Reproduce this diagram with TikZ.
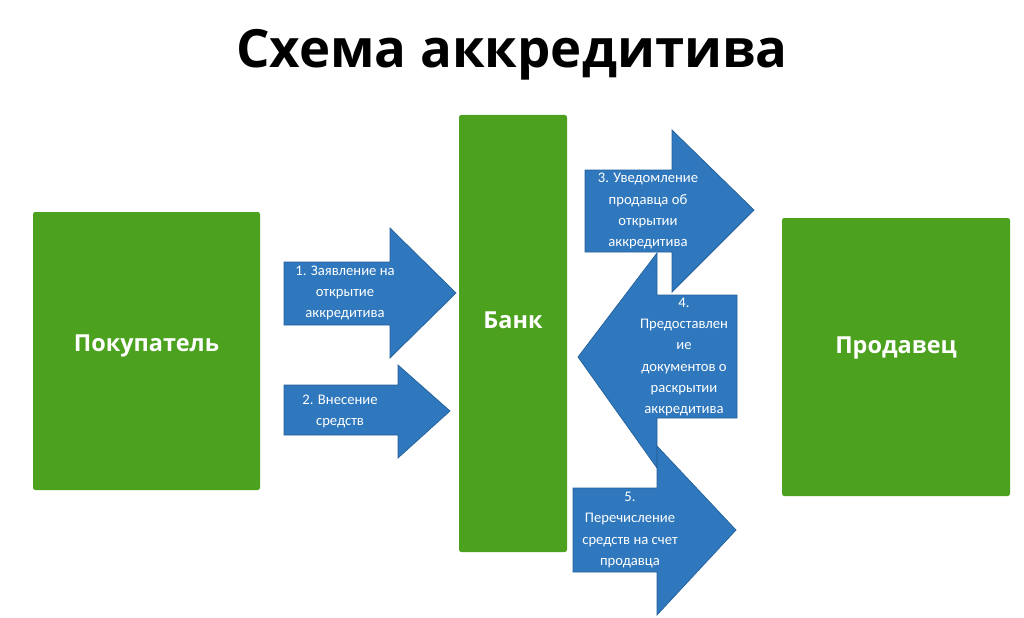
\documentclass[tikz,border=0pt]{standalone}
\usepackage{fontspec}
\setmainfont{Open Sans}
\newfontfamily\arrfont{Carlito}
\definecolor{grn}{HTML}{4CA21E}
\definecolor{blu}{HTML}{2F78BD}
\definecolor{bluedge}{HTML}{24609A}
\begin{document}
\begin{tikzpicture}[x=0.03cm,y=-0.03cm,
  gbox/.style={fill=grn,draw=none,rounded corners=2pt},
  arr/.style={fill=blu,draw=bluedge,line width=0.6pt,line join=miter},
  atext/.style={text=white,align=center,font=\arrfont\fontsize{12.5}{18}\selectfont},
  btext/.style={text=white,font=\bfseries\fontsize{20}{24}\selectfont}]
\useasboundingbox (0,0) rectangle (1024,618);
\node[font=\bfseries\fontsize{45}{50}\selectfont] (title) at (512,55) {Схема аккредитива};
\fill[gbox] (33,212) rectangle (260,490);
\node[btext] (buyer) at (146.5,346) {Покупатель};
\fill[gbox] (459,115) rectangle (567,552);
\node[btext] (bank) at (513,320) {Банк};
\fill[gbox] (782,218) rectangle (1010,496);
\node[btext] (seller) at (896,348) {Продавец};
% arrow 1
\draw[arr] (284,262) -- (390,262) -- (390,228) -- (456,293) -- (390,358) -- (390,325) -- (284,325) -- cycle;
\node[atext] (a1) at (345,293) {1. Заявление на\\открытие\\аккредитива};
% arrow 2
\draw[arr] (284,385) -- (398,385) -- (398,365) -- (450,411) -- (398,458) -- (398,435) -- (284,435) -- cycle;
\node[atext] (a2) at (340,411) {2. Внесение\\средств};
% arrow 3
\draw[arr] (585,170) -- (672,170) -- (672,130) -- (754,210) -- (672,292) -- (672,252) -- (585,252) -- cycle;
\node[atext] (a3) at (648,211) {3. Уведомление\\продавца об\\открытии\\аккредитива};
% arrow 4
\draw[arr] (737,295) -- (657,295) -- (657,253) -- (578,357) -- (657,468) -- (657,418) -- (737,418) -- cycle;
\node[atext] (a4) at (684,357) {4.\\Предоставлен\\ие\\документов о\\раскрытии\\аккредитива};
% arrow 5
\draw[arr] (573,488) -- (657,488) -- (657,446) -- (736,530) -- (657,615) -- (657,572) -- (573,572) -- cycle;
\node[atext] (a5) at (630,530) {5.\\Перечисление\\средств на счет\\продавца};
\end{tikzpicture}
\end{document}
